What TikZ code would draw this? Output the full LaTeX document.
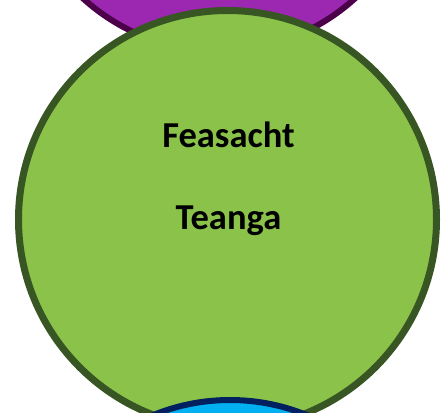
\documentclass[tikz,border=0pt]{standalone}
\usepackage{fontspec}
\newfontfamily\calibri{Carlito}
\definecolor{glas}{HTML}{8BC34A}
\definecolor{glasdorcha}{HTML}{375623}
\definecolor{corcra}{HTML}{9C27B0}
\definecolor{corcradorcha}{HTML}{4B0049}
\definecolor{gorm}{HTML}{00B0F0}
\definecolor{gormdorcha}{HTML}{002060}
\begin{document}
\begin{tikzpicture}[x=1pt,y=-1pt]

  \tikzstyle{ball}=[circle,inner sep=0pt,outer sep=0pt,line width=6pt]
  \tikzstyle{purple ball}=[ball,draw=corcradorcha,fill=corcra,minimum size=404pt]
  \tikzstyle{blue ball}=[ball,draw=gormdorcha,fill=gorm,minimum size=404pt]
  \tikzstyle{green ball}=[ball,line width=7pt,draw=glasdorcha,fill=glas,minimum size=418pt]
  \tikzstyle{word}=[inner sep=0pt,anchor=base,font=\calibri\bfseries\fontsize{36.5}{42}\selectfont]

  \useasboundingbox (0,0) rectangle (444,412);

  \node [purple ball] (top) at (219,-151) {};
  \node [green ball] (mid) at (227.5,219.5) {};
  \node [blue ball] (bot) at (230,602) {};

  \node [word] (feas) at (228.5,147) {Feasacht};
  \node [word] (teanga) at (228.5,229) {Teanga};

\end{tikzpicture}
\end{document}
